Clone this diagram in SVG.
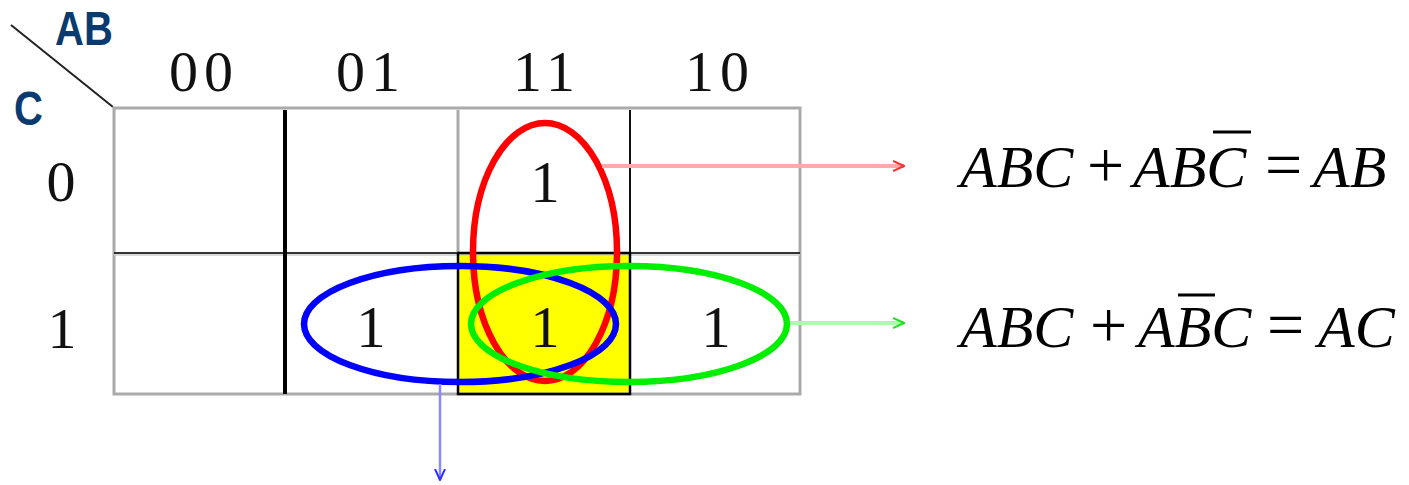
<svg xmlns="http://www.w3.org/2000/svg" width="1409" height="485" viewBox="0 0 1409 485">
<defs>
<style>
.dig{font-family:"Liberation Serif",serif;font-size:58px;fill:#111;text-anchor:middle}
.one{font-family:"Liberation Serif",serif;font-size:59px;fill:#111;text-anchor:middle}
.lab{font-family:"Liberation Sans",Arial,sans-serif;font-weight:bold;font-size:40px;fill:#0a3a6e}
.eq{font-family:"Liberation Serif",serif;font-size:60px;fill:#000}
.op{font-family:"Liberation Serif",serif;font-size:66px;fill:#000}
.it{font-style:italic}
.loop{fill:none;stroke-width:6.5}
</style>
<marker id="mr" viewBox="0 0 12 12" refX="11" refY="6" markerWidth="12" markerHeight="12" markerUnits="userSpaceOnUse" orient="auto"><path d="M0,1 L11,6 L0,11" fill="none" stroke="#ff3030" stroke-width="2"/></marker>
<marker id="mg" viewBox="0 0 12 12" refX="11" refY="6" markerWidth="12" markerHeight="12" markerUnits="userSpaceOnUse" orient="auto"><path d="M0,1 L11,6 L0,11" fill="none" stroke="#20e020" stroke-width="2"/></marker>
<marker id="mb" viewBox="0 0 12 12" refX="11" refY="6" markerWidth="12" markerHeight="12" markerUnits="userSpaceOnUse" orient="auto"><path d="M0,1 L11,6 L0,11" fill="none" stroke="#3030ff" stroke-width="2"/></marker>
</defs>
<rect width="1409" height="485" fill="#fff"/>
<g id="grid">
<rect x="458" y="253" width="172" height="141" fill="#ffff00"/>
<line x1="11" y1="25" x2="113" y2="107" stroke="#222" stroke-width="2"/>
<rect x="114" y="108" width="686" height="286" fill="none" stroke="#aaa" stroke-width="3"/>
<line x1="114" y1="253" x2="800" y2="253" stroke="#333" stroke-width="2"/>
<line x1="114" y1="255" x2="800" y2="255" stroke="#ccc" stroke-width="1.5"/>
<line x1="285" y1="110" x2="285" y2="394" stroke="#000" stroke-width="4"/>
<line x1="458" y1="110" x2="458" y2="253" stroke="#aaa" stroke-width="3"/>
<line x1="630" y1="110" x2="630" y2="253" stroke="#111" stroke-width="2"/>
<rect x="458" y="253" width="172" height="141" fill="none" stroke="#000" stroke-width="2.5"/>
</g>
<g id="labels">
<text class="lab" transform="translate(55,45) scale(1,1.2)">AB</text>
<text class="lab" transform="translate(14,125) scale(1,1.2)">C</text>
<text class="dig" x="204" y="91" letter-spacing="6">00</text>
<text class="dig" x="371" y="91" letter-spacing="6">01</text>
<text class="dig" x="547" y="91" letter-spacing="6">11</text>
<text class="dig" x="720" y="91" letter-spacing="6">10</text>
<text class="dig" x="61" y="201">0</text>
<text class="dig" x="62" y="348">1</text>
</g>
<g id="cells">
<text class="one" x="545" y="202">1</text>
<text class="one" x="371" y="347">1</text>
<text class="one" x="545" y="347">1</text>
<text class="one" x="716" y="347">1</text>
</g>
<g id="loops">
<ellipse id="red-loop" class="loop" cx="545" cy="252" rx="72" ry="129" stroke="#ff0000"/>
<ellipse id="blue-loop" class="loop" cx="460" cy="324" rx="156" ry="58" stroke="#0000ff"/>
<ellipse id="green-loop" class="loop" cx="629" cy="324" rx="158" ry="58" stroke="#00ee00"/>
</g>
<g id="connectors">
<line x1="602" y1="166" x2="904" y2="166" stroke="#ffaaaa" stroke-width="4" marker-end="url(#mr)"/>
<line x1="790" y1="323" x2="904" y2="323" stroke="#aaffaa" stroke-width="4" marker-end="url(#mg)"/>
<line x1="440" y1="384" x2="440" y2="480" stroke="#8888ff" stroke-width="2.5" marker-end="url(#mb)"/>
</g>
<g id="eq1">
<text class="eq it" x="960" y="187">ABC</text>
<text class="op" x="1087" y="187">+</text>
<text class="eq it" x="1133" y="187">ABC</text>
<line x1="1213" y1="132" x2="1251" y2="132" stroke="#000" stroke-width="3"/>
<text class="op" x="1265" y="187">=</text>
<text class="eq it" x="1313" y="187">AB</text>
</g>
<g id="eq2">
<text class="eq it" x="960" y="347">ABC</text>
<text class="op" x="1090" y="347">+</text>
<text class="eq it" x="1138" y="347">ABC</text>
<line x1="1178" y1="295" x2="1215" y2="295" stroke="#000" stroke-width="3"/>
<text class="op" x="1267" y="347">=</text>
<text class="eq it" x="1318" y="347">AC</text>
</g>
</svg>
